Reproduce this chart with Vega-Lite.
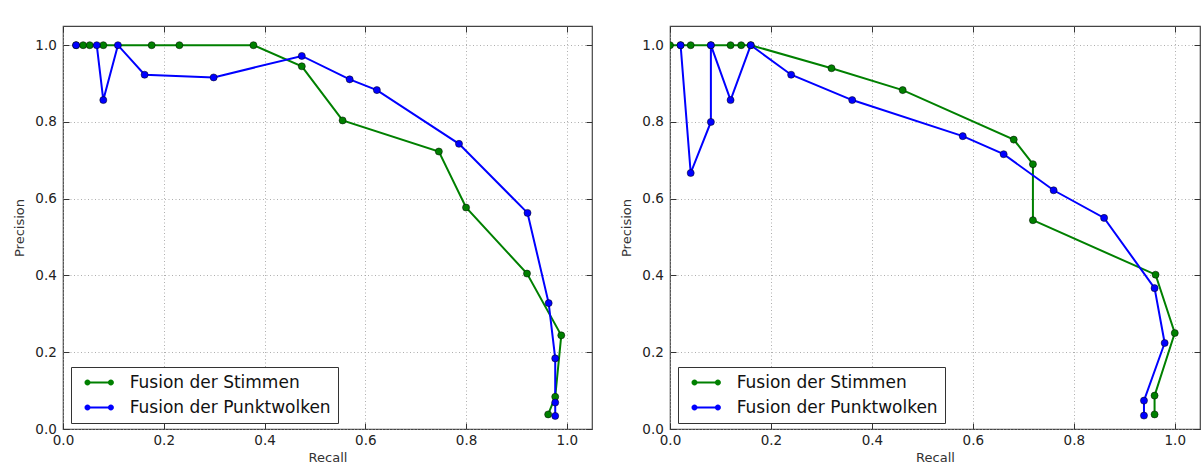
{
  "$schema": "https://vega.github.io/schema/vega-lite/v6.json",
  "padding": {"left": 13, "top": 24, "right": 0, "bottom": 0},
  "background": "white",
  "config": {
    "font": "DejaVu Sans",
    "view": {"stroke": "#444", "strokeWidth": 1.2},
    "axis": {
      "gridColor": "#999", "gridDash": [1, 2.5], "gridWidth": 0.8,
      "tickSize": -6, "tickColor": "#333", "tickWidth": 1,
      "domain": false,
      "labelFont": "DejaVu Sans", "labelFontSize": 13.5, "labelColor": "#222",
      "titleFont": "DejaVu Sans", "titleFontSize": 13, "titleFontWeight": "normal", "titleColor": "#333",
      "labelFlush": false, "labelOverlap": false
    },
    "legend": {
      "symbolType": "M0.2,-0.2 L4.88,-0.2 L4.88,0.2 L0.2,0.2 Z M0.8,0 A0.6,0.6 0 1,1 -0.4,0 A0.6,0.6 0 1,1 0.8,0 Z M5.48,0 A0.6,0.6 0 1,1 4.28,0 A0.6,0.6 0 1,1 5.48,0 Z",
      "symbolSize": 100, "symbolStrokeWidth": 0, "symbolOpacity": 1,
      "labelOffset": 34.7, "padding": 7, "rowPadding": 7,
      "strokeColor": "#333", "fillColor": "#ffffff",
      "labelFont": "DejaVu Sans", "labelFontSize": 17, "labelColor": "#111", "labelLimit": 400
    }
  },
  "datasets": {
    "pr": [
      {"panel": "links", "series": "Fusion der Stimmen", "i": 1, "recall": 0.026, "precision": 1.0},
      {"panel": "links", "series": "Fusion der Stimmen", "i": 2, "recall": 0.040, "precision": 1.0},
      {"panel": "links", "series": "Fusion der Stimmen", "i": 3, "recall": 0.053, "precision": 1.0},
      {"panel": "links", "series": "Fusion der Stimmen", "i": 4, "recall": 0.080, "precision": 1.0},
      {"panel": "links", "series": "Fusion der Stimmen", "i": 5, "recall": 0.176, "precision": 1.0},
      {"panel": "links", "series": "Fusion der Stimmen", "i": 6, "recall": 0.231, "precision": 1.0},
      {"panel": "links", "series": "Fusion der Stimmen", "i": 7, "recall": 0.378, "precision": 1.0},
      {"panel": "links", "series": "Fusion der Stimmen", "i": 8, "recall": 0.474, "precision": 0.945},
      {"panel": "links", "series": "Fusion der Stimmen", "i": 9, "recall": 0.555, "precision": 0.804},
      {"panel": "links", "series": "Fusion der Stimmen", "i": 10, "recall": 0.746, "precision": 0.723},
      {"panel": "links", "series": "Fusion der Stimmen", "i": 11, "recall": 0.800, "precision": 0.577},
      {"panel": "links", "series": "Fusion der Stimmen", "i": 12, "recall": 0.921, "precision": 0.405},
      {"panel": "links", "series": "Fusion der Stimmen", "i": 13, "recall": 0.989, "precision": 0.244},
      {"panel": "links", "series": "Fusion der Stimmen", "i": 14, "recall": 0.977, "precision": 0.084},
      {"panel": "links", "series": "Fusion der Stimmen", "i": 15, "recall": 0.963, "precision": 0.038},
      {"panel": "links", "series": "Fusion der Punktwolken", "i": 1, "recall": 0.026, "precision": 1.0},
      {"panel": "links", "series": "Fusion der Punktwolken", "i": 2, "recall": 0.067, "precision": 1.0},
      {"panel": "links", "series": "Fusion der Punktwolken", "i": 3, "recall": 0.080, "precision": 0.857},
      {"panel": "links", "series": "Fusion der Punktwolken", "i": 4, "recall": 0.109, "precision": 1.0},
      {"panel": "links", "series": "Fusion der Punktwolken", "i": 5, "recall": 0.162, "precision": 0.923},
      {"panel": "links", "series": "Fusion der Punktwolken", "i": 6, "recall": 0.299, "precision": 0.916},
      {"panel": "links", "series": "Fusion der Punktwolken", "i": 7, "recall": 0.474, "precision": 0.972},
      {"panel": "links", "series": "Fusion der Punktwolken", "i": 8, "recall": 0.569, "precision": 0.911},
      {"panel": "links", "series": "Fusion der Punktwolken", "i": 9, "recall": 0.623, "precision": 0.883},
      {"panel": "links", "series": "Fusion der Punktwolken", "i": 10, "recall": 0.786, "precision": 0.743},
      {"panel": "links", "series": "Fusion der Punktwolken", "i": 11, "recall": 0.922, "precision": 0.563},
      {"panel": "links", "series": "Fusion der Punktwolken", "i": 12, "recall": 0.964, "precision": 0.328},
      {"panel": "links", "series": "Fusion der Punktwolken", "i": 13, "recall": 0.977, "precision": 0.184},
      {"panel": "links", "series": "Fusion der Punktwolken", "i": 14, "recall": 0.977, "precision": 0.069},
      {"panel": "links", "series": "Fusion der Punktwolken", "i": 15, "recall": 0.977, "precision": 0.034},
      {"panel": "rechts", "series": "Fusion der Stimmen", "i": 1, "recall": 0.0, "precision": 1.0},
      {"panel": "rechts", "series": "Fusion der Stimmen", "i": 2, "recall": 0.021, "precision": 1.0},
      {"panel": "rechts", "series": "Fusion der Stimmen", "i": 3, "recall": 0.041, "precision": 1.0},
      {"panel": "rechts", "series": "Fusion der Stimmen", "i": 4, "recall": 0.081, "precision": 1.0},
      {"panel": "rechts", "series": "Fusion der Stimmen", "i": 5, "recall": 0.120, "precision": 1.0},
      {"panel": "rechts", "series": "Fusion der Stimmen", "i": 6, "recall": 0.141, "precision": 1.0},
      {"panel": "rechts", "series": "Fusion der Stimmen", "i": 7, "recall": 0.160, "precision": 1.0},
      {"panel": "rechts", "series": "Fusion der Stimmen", "i": 8, "recall": 0.320, "precision": 0.940},
      {"panel": "rechts", "series": "Fusion der Stimmen", "i": 9, "recall": 0.461, "precision": 0.883},
      {"panel": "rechts", "series": "Fusion der Stimmen", "i": 10, "recall": 0.681, "precision": 0.754},
      {"panel": "rechts", "series": "Fusion der Stimmen", "i": 11, "recall": 0.719, "precision": 0.690},
      {"panel": "rechts", "series": "Fusion der Stimmen", "i": 12, "recall": 0.719, "precision": 0.544},
      {"panel": "rechts", "series": "Fusion der Stimmen", "i": 13, "recall": 0.962, "precision": 0.402},
      {"panel": "rechts", "series": "Fusion der Stimmen", "i": 14, "recall": 1.0, "precision": 0.250},
      {"panel": "rechts", "series": "Fusion der Stimmen", "i": 15, "recall": 0.960, "precision": 0.087},
      {"panel": "rechts", "series": "Fusion der Stimmen", "i": 16, "recall": 0.960, "precision": 0.038},
      {"panel": "rechts", "series": "Fusion der Punktwolken", "i": 1, "recall": 0.021, "precision": 1.0},
      {"panel": "rechts", "series": "Fusion der Punktwolken", "i": 2, "recall": 0.041, "precision": 0.667},
      {"panel": "rechts", "series": "Fusion der Punktwolken", "i": 3, "recall": 0.081, "precision": 0.800},
      {"panel": "rechts", "series": "Fusion der Punktwolken", "i": 4, "recall": 0.081, "precision": 1.0},
      {"panel": "rechts", "series": "Fusion der Punktwolken", "i": 5, "recall": 0.120, "precision": 0.857},
      {"panel": "rechts", "series": "Fusion der Punktwolken", "i": 6, "recall": 0.160, "precision": 1.0},
      {"panel": "rechts", "series": "Fusion der Punktwolken", "i": 7, "recall": 0.240, "precision": 0.923},
      {"panel": "rechts", "series": "Fusion der Punktwolken", "i": 8, "recall": 0.361, "precision": 0.857},
      {"panel": "rechts", "series": "Fusion der Punktwolken", "i": 9, "recall": 0.580, "precision": 0.763},
      {"panel": "rechts", "series": "Fusion der Punktwolken", "i": 10, "recall": 0.661, "precision": 0.716},
      {"panel": "rechts", "series": "Fusion der Punktwolken", "i": 11, "recall": 0.760, "precision": 0.622},
      {"panel": "rechts", "series": "Fusion der Punktwolken", "i": 12, "recall": 0.860, "precision": 0.550},
      {"panel": "rechts", "series": "Fusion der Punktwolken", "i": 13, "recall": 0.960, "precision": 0.367},
      {"panel": "rechts", "series": "Fusion der Punktwolken", "i": 14, "recall": 0.980, "precision": 0.224},
      {"panel": "rechts", "series": "Fusion der Punktwolken", "i": 15, "recall": 0.939, "precision": 0.074},
      {"panel": "rechts", "series": "Fusion der Punktwolken", "i": 16, "recall": 0.939, "precision": 0.035}
    ]
  },
  "spacing": 78,
  "bounds": "flush",
  "hconcat": [
    {
      "width": 529, "height": 403,
      "data": {"name": "pr"},
      "transform": [{"filter": "datum.panel == 'links'"}],
      "layer": [
        {
          "mark": {"type": "line", "strokeWidth": 2, "clip": true},
          "encoding": {
            "x": {"field": "recall", "type": "quantitative", "scale": {"domain": [0, 1.05], "nice": false},
                  "axis": {"orient": "bottom", "values": [0, 0.2, 0.4, 0.6, 0.8, 1.0], "format": ".1f", "labelPadding": 10, "title": "Recall", "titlePadding": 5, "grid": true}},
            "y": {"field": "precision", "type": "quantitative", "scale": {"domain": [0, 1.05], "nice": false},
                  "axis": {"orient": "left", "values": [0, 0.2, 0.4, 0.6, 0.8, 1.0], "format": ".1f", "labelPadding": 12.7, "title": "Precision", "titlePadding": 8, "grid": true}},
            "color": {"field": "series", "type": "nominal", "scale": {"domain": ["Fusion der Stimmen", "Fusion der Punktwolken"], "range": ["#008000", "#0000ff"]},
                      "legend": {"title": null, "orient": "none", "legendX": 8, "legendY": 341}},
            "order": {"field": "i", "type": "quantitative"}
          }
        },
        {
          "mark": {"type": "point", "filled": true, "size": 50, "opacity": 1, "stroke": "#000", "strokeWidth": 0.5, "clip": true},
          "encoding": {
            "x": {"field": "recall", "type": "quantitative",
                  "axis": {"orient": "top", "values": [0, 0.2, 0.4, 0.6, 0.8, 1.0], "labels": false, "title": null, "grid": false}},
            "y": {"field": "precision", "type": "quantitative",
                  "axis": {"orient": "right", "values": [0, 0.2, 0.4, 0.6, 0.8, 1.0], "labels": false, "title": null, "grid": false}},
            "color": {"field": "series", "type": "nominal"}
          }
        }
      ],
      "resolve": {"axis": {"x": "independent", "y": "independent"}}
    },
    {
      "width": 530, "height": 403,
      "data": {"name": "pr"},
      "transform": [{"filter": "datum.panel == 'rechts'"}],
      "layer": [
        {
          "mark": {"type": "line", "strokeWidth": 2, "clip": true},
          "encoding": {
            "x": {"field": "recall", "type": "quantitative", "scale": {"domain": [0, 1.05], "nice": false},
                  "axis": {"orient": "bottom", "values": [0, 0.2, 0.4, 0.6, 0.8, 1.0], "format": ".1f", "labelPadding": 10, "title": "Recall", "titlePadding": 5, "grid": true}},
            "y": {"field": "precision", "type": "quantitative", "scale": {"domain": [0, 1.05], "nice": false},
                  "axis": {"orient": "left", "values": [0, 0.2, 0.4, 0.6, 0.8, 1.0], "format": ".1f", "labelPadding": 12.7, "title": "Precision", "titlePadding": 8, "grid": true}},
            "color": {"field": "series", "type": "nominal", "scale": {"domain": ["Fusion der Stimmen", "Fusion der Punktwolken"], "range": ["#008000", "#0000ff"]},
                      "legend": {"title": null, "orient": "none", "legendX": 8, "legendY": 341}},
            "order": {"field": "i", "type": "quantitative"}
          }
        },
        {
          "mark": {"type": "point", "filled": true, "size": 50, "opacity": 1, "stroke": "#000", "strokeWidth": 0.5, "clip": true},
          "encoding": {
            "x": {"field": "recall", "type": "quantitative",
                  "axis": {"orient": "top", "values": [0, 0.2, 0.4, 0.6, 0.8, 1.0], "labels": false, "title": null, "grid": false}},
            "y": {"field": "precision", "type": "quantitative",
                  "axis": {"orient": "right", "values": [0, 0.2, 0.4, 0.6, 0.8, 1.0], "labels": false, "title": null, "grid": false}},
            "color": {"field": "series", "type": "nominal"}
          }
        }
      ],
      "resolve": {"axis": {"x": "independent", "y": "independent"}}
    }
  ],
  "resolve": {"scale": {"color": "independent"}, "legend": {"color": "independent"}}
}
